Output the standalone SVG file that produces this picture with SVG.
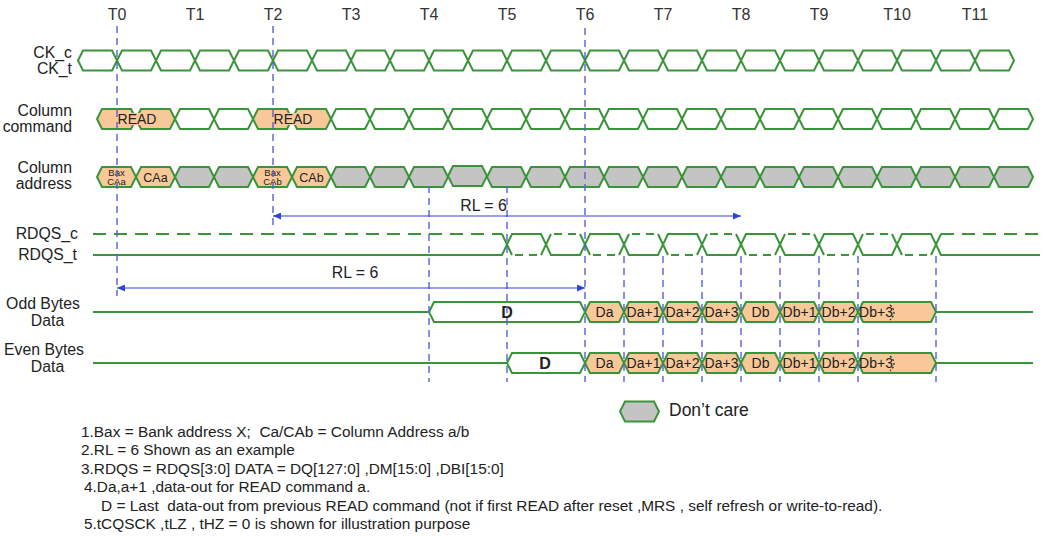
<svg xmlns="http://www.w3.org/2000/svg" width="1045" height="536" viewBox="0 0 1045 536">
  <style>
    text { font-family: "Liberation Sans", Arial, sans-serif; fill: #222; }
    .lbl { font-size: 15.8px; }
    .tk { font-size: 16px; text-anchor: middle; fill: #333; }
    .w { fill: #fff; stroke: #3a943a; stroke-width: 2; }
    .o { fill: #f9c898; stroke: #3a943a; stroke-width: 2; }
    .g { fill: #c4c4c4; stroke: #3a943a; stroke-width: 2; }
    .sig { fill: none; stroke: #3a943a; stroke-width: 2; }
    .dl { fill: none; stroke: #3a943a; stroke-width: 2; stroke-dasharray: 13 8; }
    .ds { fill: none; stroke: #3a943a; stroke-width: 2; stroke-dasharray: 8 6; stroke-dashoffset: 11; }
    .grid { fill: none; stroke: #5561d8; stroke-width: 1.4; stroke-dasharray: 7 5; }
    .rl { fill: none; stroke: #3145d4; stroke-width: 1.2; marker-start: url(#ah); marker-end: url(#ah); }
    .cell { font-size: 14px; text-anchor: middle; }
    .tiny { font-size: 9.5px; text-anchor: middle; }
    .note { font-size: 15.4px; white-space: pre; }
  </style>
  <defs>
    <!-- one half-cycle cell, 39 wide and 20 high -->
    <polygon id="hx" points="0,10 5,0 34,0 39,10 34,20 5,20"/>
    <!-- full-cycle cell -->
    <polygon id="hx2" points="0,10 5,0 73,0 78,10 73,20 5,20"/>
    <marker id="ah" viewBox="0 0 8 7" refX="8" refY="3.5" markerWidth="8" markerHeight="7" markerUnits="userSpaceOnUse" orient="auto-start-reverse">
      <path d="M0,0 L8,3.5 L0,7 z" fill="#3145d4"/>
    </marker>
  </defs>

  <!-- clock edge labels -->
  <g id="ticks">
    <text class="tk" x="117" y="20">T0</text>
    <text class="tk" x="195" y="20">T1</text>
    <text class="tk" x="273" y="20">T2</text>
    <text class="tk" x="351" y="20">T3</text>
    <text class="tk" x="429" y="20">T4</text>
    <text class="tk" x="507" y="20">T5</text>
    <text class="tk" x="585" y="20">T6</text>
    <text class="tk" x="663" y="20">T7</text>
    <text class="tk" x="741" y="20">T8</text>
    <text class="tk" x="819" y="20">T9</text>
    <text class="tk" x="897" y="20">T10</text>
    <text class="tk" x="975" y="20">T11</text>
  </g>

  <!-- signal names -->
  <g id="signal-names" class="lbl">
    <text x="72" y="58" text-anchor="end">CK_c</text>
    <text x="72" y="74" text-anchor="end">CK_t</text>
    <text x="72" y="116" text-anchor="end">Column</text>
    <text x="72" y="132" text-anchor="end">command</text>
    <text x="72" y="173" text-anchor="end">Column</text>
    <text x="72" y="189" text-anchor="end">address</text>
    <text x="78" y="239" text-anchor="end">RDQS_c</text>
    <text x="77" y="260" text-anchor="end">RDQS_t</text>
    <text x="43" y="309" text-anchor="middle">Odd Bytes</text>
    <text x="47.5" y="326" text-anchor="middle">Data</text>
    <text x="44" y="355" text-anchor="middle">Even Bytes</text>
    <text x="47.5" y="372" text-anchor="middle">Data</text>
  </g>

  <!-- differential clock -->
  <g id="clock" class="w">
    <use href="#hx" x="78" y="50.5"/><use href="#hx" x="117" y="50.5"/><use href="#hx" x="156" y="50.5"/>
    <use href="#hx" x="195" y="50.5"/><use href="#hx" x="234" y="50.5"/><use href="#hx" x="273" y="50.5"/>
    <use href="#hx" x="312" y="50.5"/><use href="#hx" x="351" y="50.5"/><use href="#hx" x="390" y="50.5"/>
    <use href="#hx" x="429" y="50.5"/><use href="#hx" x="468" y="50.5"/><use href="#hx" x="507" y="50.5"/>
    <use href="#hx" x="546" y="50.5"/><use href="#hx" x="585" y="50.5"/><use href="#hx" x="624" y="50.5"/>
    <use href="#hx" x="663" y="50.5"/><use href="#hx" x="702" y="50.5"/><use href="#hx" x="741" y="50.5"/>
    <use href="#hx" x="780" y="50.5"/><use href="#hx" x="819" y="50.5"/><use href="#hx" x="858" y="50.5"/>
    <use href="#hx" x="897" y="50.5"/><use href="#hx" x="936" y="50.5"/><use href="#hx" x="975" y="50.5"/>
  </g>

  <!-- column command bus -->
  <g id="command">
    <g class="o">
      <use href="#hx" x="97" y="109"/><use href="#hx" x="136" y="109"/>
      <use href="#hx" x="253" y="109"/><use href="#hx" x="292" y="109"/>
    </g>
    <rect x="119" y="113" width="34" height="12" fill="#f9c898"/>
    <rect x="275" y="113" width="34" height="12" fill="#f9c898"/>
    <g class="w">
      <use href="#hx" x="175" y="109"/><use href="#hx" x="214" y="109"/>
      <use href="#hx" x="331" y="109"/><use href="#hx" x="370" y="109"/><use href="#hx" x="409" y="109"/>
      <use href="#hx" x="448" y="109"/><use href="#hx" x="487" y="109"/><use href="#hx" x="526" y="109"/>
      <use href="#hx" x="565" y="109"/><use href="#hx" x="604" y="109"/><use href="#hx" x="643" y="109"/>
      <use href="#hx" x="682" y="109"/><use href="#hx" x="721" y="109"/><use href="#hx" x="760" y="109"/>
      <use href="#hx" x="799" y="109"/><use href="#hx" x="838" y="109"/><use href="#hx" x="877" y="109"/>
      <use href="#hx" x="916" y="109"/><use href="#hx" x="955" y="109"/><use href="#hx" x="994" y="109"/>
    </g>
    <text class="cell" x="137" y="124">READ</text>
    <text class="cell" x="293" y="124">READ</text>
  </g>

  <!-- column address bus -->
  <g id="address">
    <g class="o">
      <use href="#hx" x="97" y="167"/><use href="#hx" x="136" y="167"/>
      <use href="#hx" x="253" y="167"/><use href="#hx" x="292" y="167"/>
    </g>
    <g class="g">
      <use href="#hx" x="175" y="167"/><use href="#hx" x="214" y="167"/>
      <use href="#hx" x="331" y="167"/><use href="#hx" x="370" y="167"/><use href="#hx" x="409" y="167"/>
      <use href="#hx" x="448" y="166"/><use href="#hx" x="487" y="167"/><use href="#hx" x="526" y="167"/>
      <use href="#hx" x="565" y="167"/><use href="#hx" x="604" y="167"/><use href="#hx" x="643" y="167"/>
      <use href="#hx" x="682" y="167"/><use href="#hx" x="721" y="167"/><use href="#hx" x="760" y="167"/>
      <use href="#hx" x="799" y="167"/><use href="#hx" x="838" y="167"/><use href="#hx" x="877" y="167"/>
      <use href="#hx" x="916" y="167"/><use href="#hx" x="955" y="167"/><use href="#hx" x="994" y="167"/>
    </g>
    <text class="tiny" x="116.5" y="175.5">Bax</text>
    <text class="tiny" x="116.5" y="185">CAa</text>
    <text class="cell" x="155.5" y="182" style="font-size:12.5px">CAa</text>
    <text class="tiny" x="272.5" y="175.5">Bax</text>
    <text class="tiny" x="272.5" y="185">CAb</text>
    <text class="cell" x="311.5" y="182" style="font-size:12.5px">CAb</text>
  </g>

  <!-- read strobe pair -->
  <g id="rdqs">
    <path class="sig" d="M93,255 H502 L512,234 H541 L551,255 H580 L590,234 H619 L629,255 H658 L668,234 H697 L707,255 H736 L746,234 H775 L785,255 H814 L824,234 H853 L863,255 H892 L902,234 H931 L941,255 H1040"/>
    <path class="sig" d="M502,234 L512,255 M541,255 L551,234 M580,234 L590,255 M619,255 L629,234 M658,234 L668,255 M697,255 L707,234 M736,234 L746,255 M775,255 L785,234 M814,234 L824,255 M853,255 L863,234 M892,234 L902,255 M931,255 L941,234"/>
    <path class="dl" d="M93,234 H502 M941,234 H1040"/>
    <path class="ds" d="M512,255 H541 M551,234 H580 M590,255 H619 M629,234 H658 M668,255 H697 M707,234 H736 M746,255 H775 M785,234 H814 M824,255 H853 M863,234 H892 M902,255 H931"/>
  </g>

  <!-- odd byte lane -->
  <g id="odd-data">
    <path class="sig" d="M93,312 H429 M936,312 H1033"/>
    <polygon class="w" points="429,312 434,302 580,302 585,312 580,322 434,322"/>
    <g class="o">
      <use href="#hx" x="585" y="302"/><use href="#hx" x="624" y="302"/><use href="#hx" x="663" y="302"/>
      <use href="#hx" x="702" y="302"/><use href="#hx" x="741" y="302"/><use href="#hx" x="780" y="302"/>
      <use href="#hx" x="819" y="302"/><use href="#hx2" x="858" y="302"/>
    </g>
    <text class="cell" x="507" y="318" style="font-weight:bold;font-size:16px">D</text>
    <text class="cell" x="604.5" y="317">Da</text>
    <text class="cell" x="643.5" y="317">Da+1</text>
    <text class="cell" x="682.5" y="317">Da+2</text>
    <text class="cell" x="721.5" y="317">Da+3</text>
    <text class="cell" x="760.5" y="317">Db</text>
    <text class="cell" x="799.5" y="317">Db+1</text>
    <text class="cell" x="838.5" y="317">Db+2</text>
    <text class="cell" x="876" y="317">Db+3</text>
    <path d="M890,305 Q898,312.5 890,320" fill="none" stroke="#222" stroke-width="1.2" stroke-dasharray="2 2"/>
  </g>

  <!-- even byte lane -->
  <g id="even-data">
    <path class="sig" d="M93,363 H507 M936,363 H1033"/>
    <use class="w" href="#hx2" x="507" y="353"/>
    <g class="o">
      <use href="#hx" x="585" y="353"/><use href="#hx" x="624" y="353"/><use href="#hx" x="663" y="353"/>
      <use href="#hx" x="702" y="353"/><use href="#hx" x="741" y="353"/><use href="#hx" x="780" y="353"/>
      <use href="#hx" x="819" y="353"/><use href="#hx2" x="858" y="353"/>
    </g>
    <text class="cell" x="545" y="369" style="font-weight:bold;font-size:16px">D</text>
    <text class="cell" x="604.5" y="368">Da</text>
    <text class="cell" x="643.5" y="368">Da+1</text>
    <text class="cell" x="682.5" y="368">Da+2</text>
    <text class="cell" x="721.5" y="368">Da+3</text>
    <text class="cell" x="760.5" y="368">Db</text>
    <text class="cell" x="799.5" y="368">Db+1</text>
    <text class="cell" x="838.5" y="368">Db+2</text>
    <text class="cell" x="876" y="368">Db+3</text>
    <path d="M890,356 Q898,363.5 890,371" fill="none" stroke="#222" stroke-width="1.2" stroke-dasharray="2 2"/>
  </g>

  <!-- edge reference lines -->
  <g id="grid" class="grid">
    <path d="M117,26 V296"/>
    <path d="M273,26 V228"/>
    <path d="M585,28 V382"/>
    <path d="M429,186 V382"/>
    <path d="M507,186 V382"/>
    <path d="M624,256 V382 M663,256 V382 M702,256 V382 M741,256 V382 M780,256 V382 M819,256 V382 M858,256 V382 M936,256 V382"/>
  </g>

  <!-- read latency spans -->
  <g id="connectors">
    <path class="rl" d="M273,216 H741"/>
    <path class="rl" d="M117,288 H585"/>
    <text class="lbl" x="483.5" y="211" text-anchor="middle">RL = 6</text>
    <text class="lbl" x="355" y="278" text-anchor="middle">RL = 6</text>
  </g>

  <!-- legend -->
  <g id="legend">
    <use class="g" href="#hx" x="620" y="401.5"/>
    <text x="669" y="416" style="font-size:17.5px">Don’t care</text>
  </g>

  <!-- footnotes -->
  <g id="notes" class="note">
    <text class="note" x="81" y="437">1.Bax = Bank address X;  Ca/CAb = Column Address a/b</text>
    <text class="note" x="81" y="455">2.RL = 6 Shown as an example</text>
    <text class="note" x="81" y="474">3.RDQS = RDQS[3:0] DATA = DQ[127:0] ,DM[15:0] ,DBI[15:0]</text>
    <text class="note" x="84" y="492">4.Da,a+1 ,data-out for READ command a.</text>
    <text class="note" x="101" y="511">D = Last  data-out from previous READ command (not if first READ after reset ,MRS , self refresh or write-to-read).</text>
    <text class="note" x="84" y="529">5.tCQSCK ,tLZ , tHZ = 0 is shown for illustration purpose</text>
  </g>
</svg>
